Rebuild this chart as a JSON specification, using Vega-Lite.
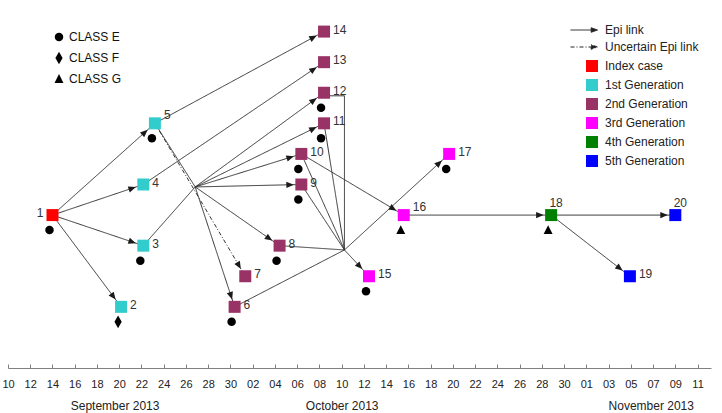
{
  "$schema": "https://vega.github.io/schema/vega-lite/v6.json",
  "width": 703,
  "height": 367,
  "autosize": {"type": "none"},
  "padding": {"left": 8, "top": 1, "right": 11, "bottom": 45},
  "background": "white",
  "config": {
    "view": {"stroke": null},
    "font": "Liberation Sans",
    "legend": {"padding": 0, "titlePadding": 0}
  },
  "datasets": {
    "nodes": [
      {"id": "1", "t": "2013-09-14T00:00:00Z", "row": 3, "gen": "Index case", "cls": "CLASS E"},
      {"id": "2", "t": "2013-09-20T04:00:00Z", "row": 0, "gen": "1st Generation", "cls": "CLASS F"},
      {"id": "3", "t": "2013-09-22T04:00:00Z", "row": 2, "gen": "1st Generation", "cls": "CLASS E"},
      {"id": "4", "t": "2013-09-22T04:00:00Z", "row": 4, "gen": "1st Generation"},
      {"id": "5", "t": "2013-09-23T05:00:00Z", "row": 6, "gen": "1st Generation", "cls": "CLASS E"},
      {"id": "6", "t": "2013-09-30T09:00:00Z", "row": 0, "gen": "2nd Generation", "cls": "CLASS E"},
      {"id": "7", "t": "2013-10-01T08:00:00Z", "row": 1, "gen": "2nd Generation"},
      {"id": "8", "t": "2013-10-04T10:00:00Z", "row": 2, "gen": "2nd Generation", "cls": "CLASS E"},
      {"id": "9", "t": "2013-10-06T09:00:00Z", "row": 4, "gen": "2nd Generation", "cls": "CLASS E"},
      {"id": "10", "t": "2013-10-06T09:00:00Z", "row": 5, "gen": "2nd Generation", "cls": "CLASS E"},
      {"id": "11", "t": "2013-10-08T10:00:00Z", "row": 6, "gen": "2nd Generation", "cls": "CLASS E"},
      {"id": "12", "t": "2013-10-08T10:00:00Z", "row": 7, "gen": "2nd Generation", "cls": "CLASS E"},
      {"id": "13", "t": "2013-10-08T10:00:00Z", "row": 8, "gen": "2nd Generation"},
      {"id": "14", "t": "2013-10-08T10:00:00Z", "row": 9, "gen": "2nd Generation"},
      {"id": "15", "t": "2013-10-12T11:00:00Z", "row": 1, "gen": "3rd Generation", "cls": "CLASS E"},
      {"id": "16", "t": "2013-10-15T14:00:00Z", "row": 3, "gen": "3rd Generation", "cls": "CLASS G"},
      {"id": "17", "t": "2013-10-19T16:00:00Z", "row": 5, "gen": "3rd Generation", "cls": "CLASS E"},
      {"id": "18", "t": "2013-10-28T20:00:00Z", "row": 3, "gen": "4th Generation", "cls": "CLASS G"},
      {"id": "19", "t": "2013-11-04T22:00:00Z", "row": 1, "gen": "5th Generation"},
      {"id": "20", "t": "2013-11-09T00:00:00Z", "row": 3, "gen": "5th Generation"}
    ],
    "edges": [
      {"from": "1", "to": "2", "link": "Epi link", "t1": "2013-09-14T00:00:00Z", "r1": 3, "t2": "2013-09-20T04:00:00Z", "r2": 0},
      {"from": "1", "to": "3", "link": "Epi link", "t1": "2013-09-14T00:00:00Z", "r1": 3, "t2": "2013-09-22T04:00:00Z", "r2": 2},
      {"from": "1", "to": "4", "link": "Epi link", "t1": "2013-09-14T00:00:00Z", "r1": 3, "t2": "2013-09-22T04:00:00Z", "r2": 4},
      {"from": "1", "to": "5", "link": "Epi link", "t1": "2013-09-14T00:00:00Z", "r1": 3, "t2": "2013-09-23T05:00:00Z", "r2": 6},
      {"from": "5", "to": "14", "link": "Epi link", "t1": "2013-09-23T05:00:00Z", "r1": 6, "t2": "2013-10-08T10:00:00Z", "r2": 9},
      {"from": "4", "to": "13", "link": "Epi link", "t1": "2013-09-22T04:00:00Z", "r1": 4, "t2": "2013-10-08T10:00:00Z", "r2": 8},
      {"from": "3", "to": "hub", "link": "Epi link", "t1": "2013-09-22T04:00:00Z", "r1": 2, "t2": "2013-09-26T20:00:00Z", "r2": 3.92},
      {"from": "5", "to": "hub", "link": "Epi link", "t1": "2013-09-23T05:00:00Z", "r1": 6, "t2": "2013-09-26T20:00:00Z", "r2": 3.92},
      {"from": "hub", "to": "6", "link": "Epi link", "t1": "2013-09-26T20:00:00Z", "r1": 3.92, "t2": "2013-09-30T09:00:00Z", "r2": 0},
      {"from": "hub", "to": "8", "link": "Epi link", "t1": "2013-09-26T20:00:00Z", "r1": 3.92, "t2": "2013-10-04T10:00:00Z", "r2": 2},
      {"from": "hub", "to": "9", "link": "Epi link", "t1": "2013-09-26T20:00:00Z", "r1": 3.92, "t2": "2013-10-06T09:00:00Z", "r2": 4},
      {"from": "hub", "to": "10", "link": "Epi link", "t1": "2013-09-26T20:00:00Z", "r1": 3.92, "t2": "2013-10-06T09:00:00Z", "r2": 5},
      {"from": "hub", "to": "11", "link": "Epi link", "t1": "2013-09-26T20:00:00Z", "r1": 3.92, "t2": "2013-10-08T10:00:00Z", "r2": 6},
      {"from": "hub", "to": "12", "link": "Epi link", "t1": "2013-09-26T20:00:00Z", "r1": 3.92, "t2": "2013-10-08T10:00:00Z", "r2": 7},
      {"from": "5", "to": "7", "link": "Uncertain Epi link", "t1": "2013-09-23T05:00:00Z", "r1": 6, "t2": "2013-10-01T08:00:00Z", "r2": 1},
      {"from": "6", "to": "hub", "link": "Epi link", "t1": "2013-09-30T09:00:00Z", "r1": 0, "t2": "2013-10-10T06:00:00Z", "r2": 1.86},
      {"from": "8", "to": "hub", "link": "Epi link", "t1": "2013-10-04T10:00:00Z", "r1": 2, "t2": "2013-10-10T06:00:00Z", "r2": 1.86},
      {"from": "9", "to": "hub", "link": "Epi link", "t1": "2013-10-06T09:00:00Z", "r1": 4, "t2": "2013-10-10T06:00:00Z", "r2": 1.86},
      {"from": "10", "to": "hub", "link": "Epi link", "t1": "2013-10-06T09:00:00Z", "r1": 5, "t2": "2013-10-10T06:00:00Z", "r2": 1.86},
      {"from": "11", "to": "hub", "link": "Epi link", "t1": "2013-10-08T10:00:00Z", "r1": 6, "t2": "2013-10-10T06:00:00Z", "r2": 1.86},
      {"from": "12", "to": "hub", "link": "Epi link", "t1": "2013-10-08T10:00:00Z", "r1": 6.9, "t2": "2013-10-10T06:00:00Z", "r2": 6.9},
      {"from": "hub", "to": "hub", "link": "Epi link", "t1": "2013-10-10T06:00:00Z", "r1": 6.9, "t2": "2013-10-10T06:00:00Z", "r2": 1.86},
      {"from": "hub", "to": "15", "link": "Epi link", "t1": "2013-10-10T06:00:00Z", "r1": 1.86, "t2": "2013-10-12T11:00:00Z", "r2": 1},
      {"from": "hub", "to": "17", "link": "Epi link", "t1": "2013-10-10T06:00:00Z", "r1": 1.86, "t2": "2013-10-19T16:00:00Z", "r2": 5},
      {"from": "10", "to": "16", "link": "Epi link", "t1": "2013-10-06T09:00:00Z", "r1": 5, "t2": "2013-10-15T14:00:00Z", "r2": 3},
      {"from": "16", "to": "18", "link": "Epi link", "t1": "2013-10-15T14:00:00Z", "r1": 3, "t2": "2013-10-28T20:00:00Z", "r2": 3},
      {"from": "18", "to": "20", "link": "Epi link", "t1": "2013-10-28T20:00:00Z", "r1": 3, "t2": "2013-11-09T00:00:00Z", "r2": 3},
      {"from": "18", "to": "19", "link": "Epi link", "t1": "2013-10-28T20:00:00Z", "r1": 3, "t2": "2013-11-04T22:00:00Z", "r2": 1}
    ]
  },
  "resolve": {"axis": {"x": "independent"}},
  "layer": [
    {
      "data": {"name": "edges"},
      "mark": {"type": "rule", "color": "#333333", "strokeWidth": 1},
      "encoding": {
        "x": {
          "field": "t1", "type": "temporal",
          "scale": {"type": "utc", "nice": false, "domain": [{"year": 2013, "month": 9, "date": 10, "utc": true}, {"year": 2013, "month": 11, "date": 12, "hours": 5, "utc": true}]},
          "axis": {
            "orient": "bottom",
            "values": [
              {"year": 2013, "month": 9, "date": 10, "utc": true}, {"year": 2013, "month": 9, "date": 12, "utc": true},
              {"year": 2013, "month": 9, "date": 14, "utc": true}, {"year": 2013, "month": 9, "date": 16, "utc": true},
              {"year": 2013, "month": 9, "date": 18, "utc": true}, {"year": 2013, "month": 9, "date": 20, "utc": true},
              {"year": 2013, "month": 9, "date": 22, "utc": true}, {"year": 2013, "month": 9, "date": 24, "utc": true},
              {"year": 2013, "month": 9, "date": 26, "utc": true}, {"year": 2013, "month": 9, "date": 28, "utc": true},
              {"year": 2013, "month": 9, "date": 30, "utc": true}, {"year": 2013, "month": 10, "date": 2, "utc": true},
              {"year": 2013, "month": 10, "date": 4, "utc": true}, {"year": 2013, "month": 10, "date": 6, "utc": true},
              {"year": 2013, "month": 10, "date": 8, "utc": true}, {"year": 2013, "month": 10, "date": 10, "utc": true},
              {"year": 2013, "month": 10, "date": 12, "utc": true}, {"year": 2013, "month": 10, "date": 14, "utc": true},
              {"year": 2013, "month": 10, "date": 16, "utc": true}, {"year": 2013, "month": 10, "date": 18, "utc": true},
              {"year": 2013, "month": 10, "date": 20, "utc": true}, {"year": 2013, "month": 10, "date": 22, "utc": true},
              {"year": 2013, "month": 10, "date": 24, "utc": true}, {"year": 2013, "month": 10, "date": 26, "utc": true},
              {"year": 2013, "month": 10, "date": 28, "utc": true}, {"year": 2013, "month": 10, "date": 30, "utc": true},
              {"year": 2013, "month": 11, "date": 1, "utc": true}, {"year": 2013, "month": 11, "date": 3, "utc": true},
              {"year": 2013, "month": 11, "date": 5, "utc": true}, {"year": 2013, "month": 11, "date": 7, "utc": true},
              {"year": 2013, "month": 11, "date": 9, "utc": true}, {"year": 2013, "month": 11, "date": 11, "utc": true}
            ],
            "format": "%d",
            "labelFontSize": 11,
            "labelColor": "#222222",
            "domainColor": "#808080",
            "tickColor": "#808080",
            "tickSize": -4,
            "labelPadding": 14,
            "grid": false,
            "title": null,
            "labelOverlap": false,
            "labelFlush": false,
            "labelBound": false
          }
        },
        "x2": {"field": "t2"},
        "y": {"field": "r1", "type": "quantitative", "scale": {"domain": [-2, 10], "nice": false, "zero": false}, "axis": null},
        "y2": {"field": "r2"},
        "strokeDash": {
          "field": "link", "type": "nominal",
          "scale": {"domain": ["Epi link", "Uncertain Epi link"], "range": [[1, 0], [4, 2, 1, 2]]},
          "legend": {
            "orient": "none", "legendX": 579, "legendY": 23, "title": null, "direction": "vertical",
            "symbolType": "M-5,0L0.2,0M1,0L-0.4,-0.5L-0.4,0.5Z",
            "symbolSize": 81, "symbolStrokeColor": "#222222", "symbolFillColor": "#222222", "symbolStrokeWidth": 1,
            "labelFontSize": 12, "labelColor": "#222222", "labelOffset": 6, "rowPadding": 5
          }
        }
      }
    },
    {
      "data": {"name": "edges"},
      "transform": [
        {"filter": "datum.to != 'hub'"},
        {"calculate": "time(datum.t1)", "as": "xa"},
        {"calculate": "time(datum.t2)", "as": "xb"},
        {"calculate": "(datum.xb - datum.xa) / 86400000 * 11.122", "as": "dxp"},
        {"calculate": "(datum.r1 - datum.r2) * 30.583", "as": "dyp"},
        {"calculate": "sqrt(datum.dxp * datum.dxp + datum.dyp * datum.dyp)", "as": "len"},
        {"calculate": "datum.dxp / datum.len", "as": "ux"},
        {"calculate": "datum.dyp / datum.len", "as": "uy"},
        {"calculate": "6.5 / max(abs(datum.ux), abs(datum.uy)) + 1", "as": "off"},
        {"calculate": "datum.xb - datum.ux * datum.off / 11.122 * 86400000", "as": "xt"},
        {"calculate": "datum.r2 + datum.uy * datum.off / 30.583", "as": "rt"},
        {"calculate": "atan2(datum.dyp, datum.dxp) * 180 / PI", "as": "ang"}
      ],
      "mark": {"type": "point", "shape": "M0,0L-2,-0.85L-2,0.85Z", "filled": true, "color": "#1a1a1a", "opacity": 1, "size": 56, "strokeWidth": 0},
      "encoding": {
        "x": {"field": "xt", "type": "temporal", "axis": null},
        "y": {"field": "rt", "type": "quantitative", "axis": null},
        "angle": {"field": "ang", "type": "quantitative", "scale": null}
      }
    },
    {
      "data": {"name": "nodes"},
      "transform": [{"filter": "isValid(datum.cls)"}],
      "mark": {"type": "point", "filled": true, "color": "black", "opacity": 1, "size": 72, "strokeWidth": 0, "xOffset": -3, "yOffset": 15},
      "encoding": {
        "x": {"field": "t", "type": "temporal", "axis": null},
        "y": {"field": "row", "type": "quantitative", "axis": null},
        "shape": {
          "field": "cls", "type": "nominal",
          "scale": {"domain": ["CLASS E", "CLASS F", "CLASS G"], "range": ["circle", "M0,-1.5L0.85,0L0,1.5L-0.85,0Z", "M0,-1.15L1.05,0.95L-1.05,0.95Z"]},
          "legend": {
            "orient": "none", "legendX": 45, "legendY": 30, "title": null, "direction": "vertical",
            "symbolSize": 72, "symbolFillColor": "black", "symbolStrokeWidth": 0, "symbolOpacity": 1,
            "labelFontSize": 12, "labelColor": "#111111", "labelOffset": 4, "rowPadding": 8
          }
        }
      }
    },
    {
      "data": {"name": "nodes"},
      "mark": {"type": "square", "size": 144, "opacity": 1},
      "encoding": {
        "x": {
          "field": "t", "type": "temporal",
          "axis": {
            "orient": "bottom",
            "values": [
              {"year": 2013, "month": 9, "date": 19, "hours": 14, "utc": true},
              {"year": 2013, "month": 10, "date": 10, "utc": true},
              {"year": 2013, "month": 11, "date": 6, "hours": 19, "utc": true}
            ],
            "format": "%B %Y",
            "domain": false,
            "ticks": false,
            "grid": false,
            "title": null,
            "labelPadding": 32,
            "labelFontSize": 12,
            "labelColor": "#222222",
            "labelOverlap": false,
            "labelFlush": false,
            "labelBound": false
          }
        },
        "y": {"field": "row", "type": "quantitative", "axis": null},
        "color": {
          "field": "gen", "type": "nominal",
          "scale": {
            "domain": ["Index case", "1st Generation", "2nd Generation", "3rd Generation", "4th Generation", "5th Generation"],
            "range": ["#FF0000", "#33CCCC", "#993366", "#FF00FF", "#008000", "#0000FF"]
          },
          "legend": {
            "orient": "none", "legendX": 578, "legendY": 59, "title": null, "direction": "vertical",
            "symbolType": "square", "symbolSize": 144, "symbolOpacity": 1, "symbolStrokeWidth": 0,
            "labelFontSize": 12, "labelColor": "#222222", "labelOffset": 7, "rowPadding": 7
          }
        }
      }
    },
    {
      "data": {"name": "nodes"},
      "transform": [{"filter": "indexof(['1', '5', '16', '18', '20'], datum.id) < 0"}],
      "mark": {"type": "text", "align": "left", "baseline": "middle", "dx": 9, "dy": -2, "fontSize": 12, "color": "#333333"},
      "encoding": {
        "x": {"field": "t", "type": "temporal", "axis": null},
        "y": {"field": "row", "type": "quantitative", "axis": null},
        "text": {"field": "id"}
      }
    },
    {
      "data": {"name": "nodes"},
      "transform": [{"filter": "indexof(['5', '16'], datum.id) >= 0"}],
      "mark": {"type": "text", "align": "left", "baseline": "middle", "dx": 9, "dy": -8, "fontSize": 12, "color": "#333333"},
      "encoding": {
        "x": {"field": "t", "type": "temporal", "axis": null},
        "y": {"field": "row", "type": "quantitative", "axis": null},
        "text": {"field": "id"}
      }
    },
    {
      "data": {"name": "nodes"},
      "transform": [{"filter": "indexof(['18', '20'], datum.id) >= 0"}],
      "mark": {"type": "text", "align": "center", "baseline": "middle", "dx": 5, "dy": -12, "fontSize": 12, "color": "#333333"},
      "encoding": {
        "x": {"field": "t", "type": "temporal", "axis": null},
        "y": {"field": "row", "type": "quantitative", "axis": null},
        "text": {"field": "id"}
      }
    },
    {
      "data": {"name": "nodes"},
      "transform": [{"filter": "datum.id == '1'"}],
      "mark": {"type": "text", "align": "right", "baseline": "middle", "dx": -9, "dy": -2, "fontSize": 12, "color": "#333333"},
      "encoding": {
        "x": {"field": "t", "type": "temporal", "axis": null},
        "y": {"field": "row", "type": "quantitative", "axis": null},
        "text": {"field": "id"}
      }
    }
  ]
}
